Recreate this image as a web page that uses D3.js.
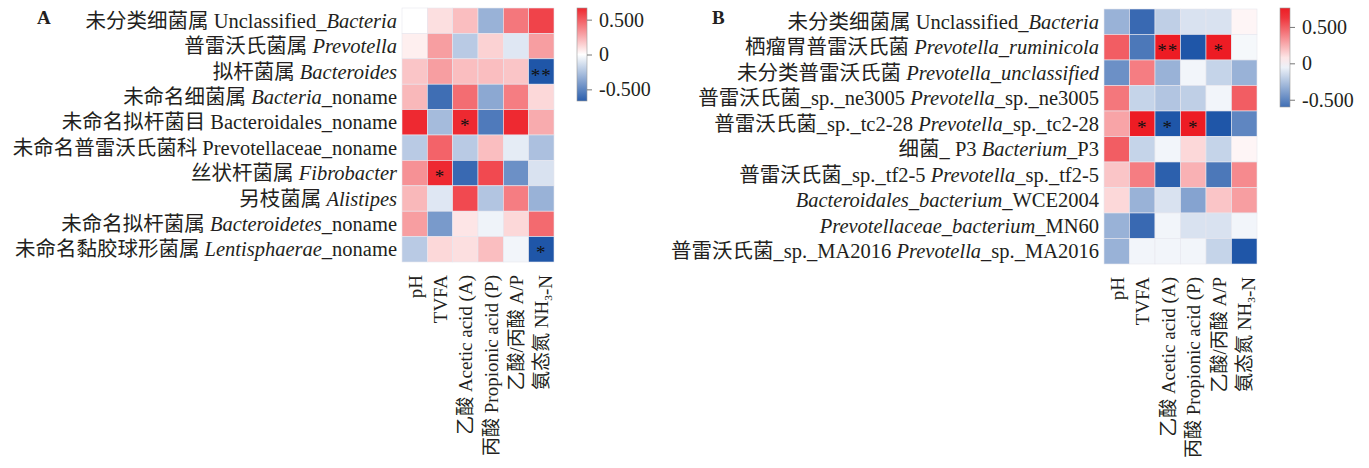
<!DOCTYPE html>
<html>
<head>
<meta charset="utf-8">
<script src="https://cdn.jsdelivr.net/npm/d3@7"></script>
<style>
  body { margin: 0; background: #fff; }
  text { font-family: "Liberation Serif", "Noto Sans CJK SC", serif; fill: #231f20; }
</style>
</head>
<body>
<div id="chart"></div>
<script>
const columns = ["pH", "TVFA", "乙酸 Acetic acid (A)", "丙酸 Propionic acid (P)", "乙酸/丙酸 A/P", "氨态氮 NH<sub>3</sub>-N"];

const rowsA = [
    "未分类细菌属 Unclassified_<i>Bacteria</i>",
    "普雷沃氏菌属 <i>Prevotella</i>",
    "拟杆菌属 <i>Bacteroides</i>",
    "未命名细菌属 <i>Bacteria</i>_noname",
    "未命名拟杆菌目 Bacteroidales_noname",
    "未命名普雷沃氏菌科 Prevotellaceae_noname",
    "丝状杆菌属 <i>Fibrobacter</i>",
    "另枝菌属 <i>Alistipes</i>",
    "未命名拟杆菌属 <i>Bacteroidetes</i>_noname",
    "未命名黏胶球形菌属 <i>Lentisphaerae</i>_noname"
];
const valuesA = [
    [0.00, 0.10, 0.20, -0.32, 0.42, 0.58],
    [0.05, 0.30, -0.22, 0.14, -0.10, 0.30],
    [0.18, 0.30, 0.20, 0.20, 0.18, -0.70],
    [0.22, -0.60, 0.45, -0.36, 0.40, 0.12],
    [0.66, -0.28, 0.66, -0.55, 0.66, 0.26],
    [-0.22, 0.48, -0.22, 0.20, -0.08, -0.26],
    [0.34, 0.66, -0.62, 0.56, -0.46, -0.12],
    [0.22, -0.10, 0.56, -0.24, 0.40, -0.32],
    [0.30, -0.42, 0.08, -0.05, 0.12, 0.46],
    [-0.22, 0.12, 0.10, 0.20, -0.04, -0.70]
];
const starsA = [
    ["", "", "", "", "", ""],
    ["", "", "", "", "", ""],
    ["", "", "", "", "", "**"],
    ["", "", "", "", "", ""],
    ["", "", "*", "", "", ""],
    ["", "", "", "", "", ""],
    ["", "*", "", "", "", ""],
    ["", "", "", "", "", ""],
    ["", "", "", "", "", ""],
    ["", "", "", "", "", "*"]
];

const rowsB = [
    "未分类细菌属 Unclassified_<i>Bacteria</i>",
    "栖瘤胃普雷沃氏菌 <i>Prevotella_ruminicola</i>",
    "未分类普雷沃氏菌 <i>Prevotella_unclassified</i>",
    "普雷沃氏菌_sp._ne3005 <i>Prevotella</i>_sp._ne3005",
    "普雷沃氏菌_sp._tc2-28 <i>Prevotella</i>_sp._tc2-28",
    "细菌_ P3 <i>Bacterium</i>_P3",
    "普雷沃氏菌_sp._tf2-5 <i>Prevotella</i>_sp._tf2-5",
    "<i>Bacteroidales_bacterium</i>_WCE2004",
    "<i>Prevotellaceae_bacterium</i>_MN60",
    "普雷沃氏菌_sp._MA2016 <i>Prevotella</i>_sp._MA2016"
];
const valuesB = [
    [-0.32, -0.62, -0.20, -0.12, -0.12, 0.03],
    [0.50, -0.56, 0.70, -0.72, 0.70, -0.03],
    [-0.46, 0.40, -0.32, -0.04, -0.18, -0.32],
    [0.42, -0.18, -0.24, -0.20, -0.04, 0.50],
    [0.28, 0.70, -0.72, 0.70, -0.72, -0.50],
    [0.50, -0.18, -0.04, 0.12, -0.18, 0.03],
    [0.18, 0.40, -0.66, 0.24, -0.56, 0.36],
    [0.12, -0.32, -0.12, -0.38, 0.18, 0.30],
    [-0.32, -0.62, -0.04, -0.12, -0.12, -0.04],
    [-0.32, -0.04, -0.04, -0.04, -0.18, -0.72]
];
const starsB = [
    ["", "", "", "", "", ""],
    ["", "", "**", "", "*", ""],
    ["", "", "", "", "", ""],
    ["", "", "", "", "", ""],
    ["", "*", "*", "*", "", ""],
    ["", "", "", "", "", ""],
    ["", "", "", "", "", ""],
    ["", "", "", "", "", ""],
    ["", "", "", "", "", ""],
    ["", "", "", "", "", ""]
];

const legendTicks = [-0.5, 0, 0.5];

const svg = d3.create("svg").attr("width", 1369).attr("height", 468);
const color = d3.scaleLinear()
    .domain([-0.7, 0, 0.7])
    .range(["#1f56a8", "#ffffff", "#ed1c24"])
    .clamp(true);

// writes "<i>..</i>" and "<sub>..</sub>" pieces as tspans
function richText(sel, str) {
    const parts = str.split(/(<i>.*?<\/i>|<sub>.*?<\/sub>)/).filter(s => s.length);
    parts.forEach(p => {
        if (p.startsWith("<i>")) {
            sel.append("tspan").attr("font-style", "italic").text(p.slice(3, -4));
        } else if (p.startsWith("<sub>")) {
            sel.append("tspan").attr("font-size", "0.6em").attr("dy", "0.3em").text(p.slice(5, -6));
            sel.append("tspan").attr("dy", "-0.3em").text("");
        } else {
            sel.append("tspan").text(p);
        }
    });
}

function heatmap(opt) {
    const g = svg.append("g");
    const x = d3.scaleBand().domain(d3.range(columns.length)).range([opt.x0, opt.x1]);
    const y = d3.scaleBand().domain(d3.range(opt.rows.length)).range([opt.y0, opt.y1]);

    opt.values.forEach((row, i) => {
        row.forEach((v, j) => {
            g.append("rect")
                .attr("x", x(j)).attr("y", y(i))
                .attr("width", x.bandwidth()).attr("height", y.bandwidth())
                .attr("fill", color(v))
                .attr("stroke", "#e6e6ee").attr("stroke-width", 0.6);
            if (opt.stars[i][j]) {
                g.append("text")
                    .attr("x", x(j) + x.bandwidth() / 2)
                    .attr("y", y(i) + y.bandwidth() / 2 + 10)
                    .attr("text-anchor", "middle")
                    .attr("font-size", 19)
                    .attr("letter-spacing", 1)
                    .style("fill", "#111")
                    .text(opt.stars[i][j]);
            }
        });
    });

    opt.rows.forEach((r, i) => {
        const t = g.append("text")
            .attr("x", opt.x0 - 5)
            .attr("y", y(i) + y.bandwidth() / 2 + 7)
            .attr("text-anchor", "end")
            .attr("font-size", 20.5);
        richText(t, r);
    });

    columns.forEach((c, j) => {
        const cx = x(j) + x.bandwidth() / 2 + 7;
        const t = g.append("text")
            .attr("transform", `translate(${cx},${opt.y1 + 13}) rotate(-90)`)
            .attr("text-anchor", "end")
            .attr("font-size", 19);
        richText(t, c);
    });

    svg.append("text")
        .attr("x", opt.labelX).attr("y", 24)
        .attr("font-size", 19).attr("font-weight", "bold")
        .text(opt.label);

    // colour bar
    const ly = d3.scaleLinear().domain(opt.legendDomain).range([opt.legendY1, 8]);
    const gradId = "grad" + opt.label;
    const grad = svg.append("defs").append("linearGradient")
        .attr("id", gradId).attr("x1", 0).attr("x2", 0).attr("y1", 1).attr("y2", 0);
    d3.range(0, 1.0001, 0.1).forEach(t => {
        const v = opt.legendDomain[0] + t * (opt.legendDomain[1] - opt.legendDomain[0]);
        grad.append("stop").attr("offset", t).attr("stop-color", color(v));
    });
    svg.append("rect")
        .attr("x", opt.legendX).attr("y", 8)
        .attr("width", 10).attr("height", opt.legendY1 - 8)
        .attr("fill", `url(#${gradId})`)
        .attr("stroke", "#999").attr("stroke-width", 0.6);
    const ax = svg.append("g")
        .attr("transform", `translate(${opt.legendX + 10},0)`)
        .call(d3.axisRight(ly).tickValues(legendTicks).tickSize(5).tickPadding(7)
            .tickFormat(d => d === 0 ? "0" : d.toFixed(3)));
    ax.select(".domain").remove();
    ax.selectAll("line").attr("stroke", "#777");
    ax.selectAll("text").attr("font-size", 20).attr("font-family", "Liberation Serif").style("fill", "#231f20");
}

heatmap({
    label: "A", labelX: 37, rows: rowsA, values: valuesA, stars: starsA,
    x0: 402, x1: 554, y0: 8, y1: 262,
    legendX: 577, legendY1: 101, legendDomain: [-0.667, 0.667]
});
heatmap({
    label: "B", labelX: 712, rows: rowsB, values: valuesB, stars: starsB,
    x0: 1104, x1: 1257, y0: 9, y1: 264,
    legendX: 1280, legendY1: 107, legendDomain: [-0.6, 0.76]
});

document.getElementById("chart").appendChild(svg.node());
</script>
</body>
</html>
